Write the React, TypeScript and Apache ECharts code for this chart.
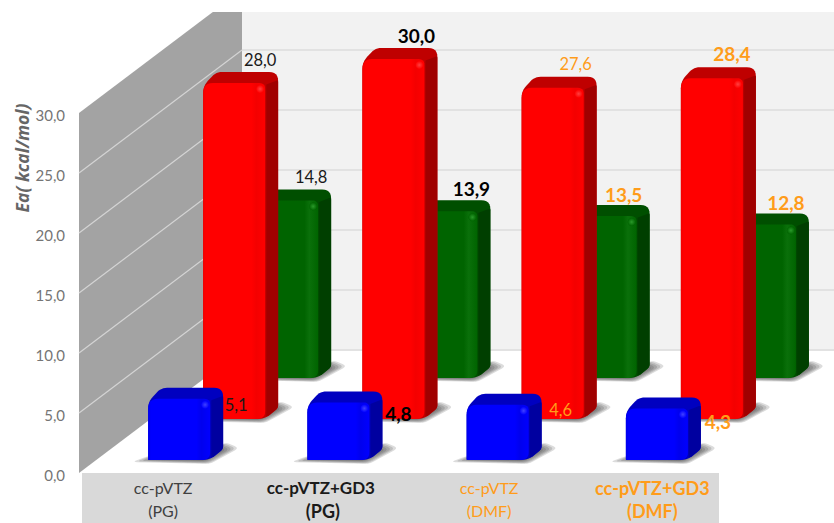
import React, { useEffect, useRef } from "react";
import * as echarts from "echarts";

const categories = ["cc-pVTZ\n(PG)", "cc-pVTZ+GD3\n(PG)", "cc-pVTZ\n(DMF)", "cc-pVTZ+GD3\n(DMF)"];
const greenValues = [14.8, 13.9, 13.5, 12.8];
const redValues = [28.0, 30.0, 27.6, 28.4];
const blueValues = [5.1, 4.8, 4.6, 4.3];
const tickValues = [0, 5, 10, 15, 20, 25];

const FONT = "Lato, Carlito, sans-serif";
const ORANGE = "#ff9c1a";
const labelColors = ["#1a1a1a", "#000000", ORANGE, ORANGE];

const BAR_W = 62;
const DX = 13;
const DY = 11;
const WALL_DX = 163;
const WALL_DY = 123;
const CLIP_TOP = 12;

const comma = (v: number) => v.toFixed(1).replace(".", ",");

function roundPoly(pts: number[][], radii: number[]) {
  const out: number[][] = [];
  const n = pts.length;
  for (let i = 0; i < n; i++) {
    const p = pts[i], a = pts[(i + n - 1) % n], b = pts[(i + 1) % n], r = radii[i];
    if (!r) { out.push(p); continue; }
    const la = Math.hypot(a[0] - p[0], a[1] - p[1]);
    const lb = Math.hypot(b[0] - p[0], b[1] - p[1]);
    const s = [p[0] + ((a[0] - p[0]) * r) / la, p[1] + ((a[1] - p[1]) * r) / la];
    const e = [p[0] + ((b[0] - p[0]) * r) / lb, p[1] + ((b[1] - p[1]) * r) / lb];
    for (let k = 0; k <= 6; k++) {
      const t = k / 6, u = 1 - t;
      out.push([u * u * s[0] + 2 * u * t * p[0] + t * t * e[0], u * u * s[1] + 2 * u * t * p[1] + t * t * e[1]]);
    }
  }
  return out;
}

type BarStyle = {
  offset: number; lift: number; front: string; edge: string; top: string; side: string; glow: string;
  labelDx: number[]; labelDy: number[]; bold: boolean[];
};

const greenStyle: BarStyle = {
  offset: 94.5, lift: 95, front: "#006400", edge: "#0a700a", top: "#004f00", side: "#003f00", glow: "#2a9a2a",
  labelDx: [24, 25, 18, 21], labelDy: [-23, -23, -22, -22], bold: [false, true, true, true],
};
const redStyle: BarStyle = {
  offset: 41.5, lift: 54, front: "#ff0000", edge: "#f40000", top: "#bf0000", side: "#a00000", glow: "#ff4040",
  labelDx: [26, 23, 23, 20], labelDy: [-23, -24, -24, -25], bold: [false, true, false, true],
};
const blueStyle: BarStyle = {
  offset: -13.5, lift: 13, front: "#0000ff", edge: "#0000ee", top: "#0000c0", side: "#0000a0", glow: "#4040ff",
  labelDx: [57, 60, 63, 61], labelDy: [6, 11, 5, 13], bold: [false, true, false, true],
};

function shadowLayers(pts: number[][]) {
  const cx = pts.reduce((s, p) => s + p[0], 0) / pts.length;
  const cy = pts.reduce((s, p) => s + p[1], 0) / pts.length;
  return [1, 0.93, 0.86, 0.79, 0.72, 0.65].map((k) => ({
    type: "polygon",
    silent: true,
    shape: {
      points: roundPoly(
        pts.map((p) => [cx + (p[0] - cx) * k, cy + (p[1] - cy) * k]),
        pts.map(() => 5)
      ),
    },
    style: { fill: "rgba(50,50,50,0.17)" },
  }));
}

function barSeries(name: string, values: number[], st: BarStyle) {
  return {
    type: "custom",
    name,
    coordinateSystem: "cartesian2d",
    data: values.map((v, i) => [i, v]),
    renderItem: (_: any, api: any) => {
      const i = api.value(0);
      const v = api.value(1);
      const [cx, yVal] = api.coord([i, v]);
      const [, yZero] = api.coord([i, 0]);
      const x0 = cx + st.offset;
      const x1 = x0 + BAR_W;
      const yb = yZero - st.lift;
      const yt = yVal - st.lift;
      const outline = roundPoly(
        [[x0, yb], [x0, yt + 3], [x0 + DX, yt - DY], [x1 + DX, yt - DY], [x1 + DX, yb - DY], [x1, yb]],
        [1, 7, 6, 9, 3, 8]
      );
      const front = roundPoly([[x0, yb], [x0, yt], [x1, yt], [x1, yb]], [1, 10, 6, 8]);
      const gradFront = new echarts.graphic.LinearGradient(0, 0, 1, 0, [
        { offset: 0, color: st.edge },
        { offset: 0.05, color: st.front },
        { offset: 0.78, color: st.front },
        { offset: 0.86, color: st.edge },
        { offset: 1, color: st.front },
      ]);
      const gradSide = new echarts.graphic.LinearGradient(0, 0, 1, 0, [
        { offset: 0, color: st.front },
        { offset: 0.3, color: st.side },
        { offset: 1, color: st.side },
      ]);
      const weight = st.bold[i];
      const children: any[] = [
        ...shadowLayers([
          [x0 - 16, yb + 2], [x1, yb + 4], [x1 + DX + 16, yb - DY - 1],
          [x1 + DX + 2, yb - DY - 7], [x1, yb - 8], [x0, yb - 4],
        ]),
        { type: "polygon", shape: { points: outline }, style: { fill: st.top } },
        {
          type: "polygon",
          shape: {
            points: roundPoly(
              [[x1 - 3, yt + 3], [x1 + DX, yt - DY + 8], [x1 + DX, yb - DY], [x1 - 1, yb]],
              [0, 2, 3, 7]
            ),
          },
          style: { fill: gradSide },
        },
        { type: "polygon", shape: { points: front }, style: { fill: gradFront } },
        {
          type: "circle",
          shape: { cx: x1 - 5, cy: yt + 6, r: 4 },
          style: {
            fill: new echarts.graphic.RadialGradient(0.5, 0.5, 0.5, [
              { offset: 0, color: st.glow },
              { offset: 1, color: st.front },
            ]),
          },
        },
        {
          type: "text",
          x: x0 + BAR_W / 2 + st.labelDx[i],
          y: yt + st.labelDy[i],
          style: {
            text: comma(v),
            fill: labelColors[i],
            font: `${weight ? "bold 19px" : "normal 16.5px"} ${FONT}`,
            align: "center",
            verticalAlign: "middle",
          },
        },
      ];
      return { type: "group", children };
    },
  };
}

const planesSeries = {
  type: "custom",
  name: "walls",
  coordinateSystem: "cartesian2d",
  silent: true,
  data: tickValues.map((v) => [0, v]),
  renderItem: (_: any, api: any) => {
    const v = api.value(1);
    const [cx, y] = api.coord([0, v]);
    const [, yZero] = api.coord([0, 0]);
    const [, yMax] = api.coord([0, 30]);
    const band = api.size([1, 0])[0];
    const gridLeft = cx - band / 2;
    const wallL = gridLeft - 3;
    const wallR = wallL + WALL_DX;
    const backFloor = yZero - WALL_DY;
    const children: any[] = [];
    if (v === 0) {
      const slope = WALL_DY / WALL_DX;
      children.push(
        {
          type: "rect",
          shape: { x: wallR, y: CLIP_TOP, width: api.getWidth() - wallR, height: backFloor - CLIP_TOP },
          style: { fill: "#f2f2f2" },
        },
        {
          type: "polygon",
          shape: {
            points: [
              [wallL, yMax], [wallL + (yMax - CLIP_TOP) / slope, CLIP_TOP], [wallR, CLIP_TOP],
              [wallR, backFloor], [wallL, yZero],
            ],
          },
          style: { fill: "#a3a3a3" },
        },
        {
          type: "rect",
          shape: { x: gridLeft, y: yZero, width: band * 4, height: api.getHeight() - yZero },
          style: { fill: "#d9d9d9" },
        }
      );
    } else {
      children.push({
        type: "line",
        shape: { x1: wallL, y1: y, x2: wallR, y2: y - WALL_DY },
        style: { stroke: "#d4d4d4", lineWidth: 1.2 },
      });
    }
    children.push({
      type: "line",
      shape: { x1: wallR, y1: y - WALL_DY, x2: api.getWidth(), y2: y - WALL_DY },
      style: { stroke: "#e2e2e2", lineWidth: 2 },
    });
    return { type: "group", children };
  },
};

const catRich = {
  n: { fontFamily: FONT, fontSize: 16, color: "#404040", lineHeight: 23, padding: [0, 0, 0, 3] },
  b: { fontFamily: FONT, fontSize: 17, fontWeight: "bold", color: "#1a1a1a", lineHeight: 23, padding: [0, 0, 0, 0] },
  c: { fontFamily: FONT, fontSize: 18, fontWeight: "bold", color: "#1a1a1a", lineHeight: 23, padding: [0, 0, 0, 4] },
  o: { fontFamily: FONT, fontSize: 16, color: ORANGE, lineHeight: 23, padding: [0, 0, 0, 18] },
  p: { fontFamily: FONT, fontSize: 18, fontWeight: "bold", color: ORANGE, lineHeight: 23, padding: [0, 0, 0, 26] },
};
const catKeys = [["n", "n"], ["b", "c"], ["o", "o"], ["p", "p"]];

export default function App() {
  const ref = useRef<HTMLDivElement>(null);
  useEffect(() => {
    document.body.style.margin = "0";
    const chart = echarts.init(ref.current!, undefined, { renderer: "svg" });
    chart.setOption({
      animation: false,
      backgroundColor: "#ffffff",
      grid: { left: 82, top: 113, width: 637, height: 360, containLabel: false },
      xAxis: {
        type: "category",
        data: categories,
        z: 6,
        axisLine: { show: false },
        axisTick: { show: false },
        splitLine: { show: false },
        axisLabel: {
          interval: 0,
          margin: 3,
          formatter: (value: string, index: number) =>
            value.split("\n").map((l, k) => `{${catKeys[index][k]}|${l}}`).join("\n"),
          rich: catRich,
        },
      },
      yAxis: {
        type: "value",
        min: 0,
        max: 30,
        interval: 5,
        axisLine: { show: false },
        axisTick: { show: false },
        splitLine: { show: false },
        axisLabel: {
          margin: 17,
          color: "#757575",
          fontFamily: FONT,
          fontSize: 15,
          verticalAlign: "top",
          lineHeight: 4,
          formatter: (v: number) => comma(v),
        },
      },
      graphic: [
        {
          type: "text",
          x: 22,
          y: 158,
          rotation: Math.PI / 2,
          style: {
            text: "Ea( kcal/mol)",
            fill: "#666666",
            font: `italic bold 17.5px "Open Sans", ${FONT}`,
            align: "center",
            verticalAlign: "middle",
          },
        },
      ],
      series: [
        planesSeries,
        barSeries("Green", greenValues, greenStyle),
        barSeries("Red", redValues, redStyle),
        barSeries("Blue", blueValues, blueStyle),
      ],
    });
    return () => chart.dispose();
  }, []);
  return <div ref={ref} style={{ width: 834, height: 523, position: "fixed", left: 0, top: 0 }} />;
}
